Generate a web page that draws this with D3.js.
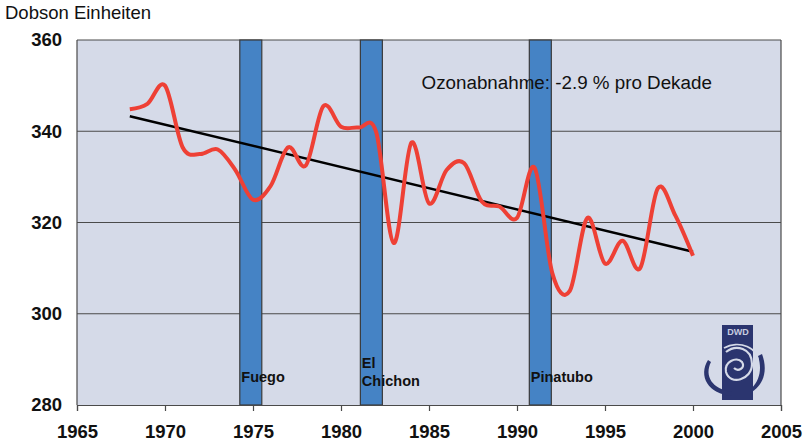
<!DOCTYPE html>
<html>
<head>
<meta charset="utf-8">
<script src="https://cdn.jsdelivr.net/npm/d3@7"></script>
<style>
  body { margin: 0; background: #fff; }
  text { font-family: "Liberation Sans", Arial, sans-serif; }
</style>
</head>
<body>
<script>
// chart data
var years = [1968, 1969, 1970, 1971, 1972, 1973, 1974, 1975, 1976, 1977, 1978, 1979, 1980,
             1981, 1982, 1983, 1984, 1985, 1986, 1987, 1988, 1989, 1990, 1991, 1992, 1993,
             1994, 1995, 1996, 1997, 1998, 1999, 2000];
var ozone = [344.8, 346, 350, 336.5, 335, 336, 331.5, 325, 328, 336.5, 332.5, 345.5, 341,
             340.8, 339.8, 315.5, 337.5, 324.2, 331.5, 333, 324.6, 323.5, 321, 332, 309, 305,
             321, 311, 316, 310, 327.5, 321.5, 312.7];
var trendYears = [1968, 2000];
var trendValues = [343.3, 313.6];
var volcanoes = ["Fuego", "El Chichon", "Pinatubo"];
var volcanoStart = [1974.25, 1981.1, 1990.7];
var volcanoEnd = [1975.5, 1982.35, 1991.95];
var xTicks = [1965, 1970, 1975, 1980, 1985, 1990, 1995, 2000, 2005];
var yTicks = [280, 300, 320, 340, 360];

var margin = {top: 40, right: 31, bottom: 37, left: 77},
    width = 812 - margin.left - margin.right,
    height = 442 - margin.top - margin.bottom;

var svg = d3.select("body").append("svg")
    .attr("width", 812)
    .attr("height", 442);

svg.append("text")
    .attr("x", 5).attr("y", 18.5)
    .style("font-size", "18.5px")
    .attr("fill", "#111")
    .text("Dobson Einheiten");

var g = svg.append("g")
    .attr("transform", "translate(" + margin.left + "," + margin.top + ")");

var x = d3.scaleLinear().domain([1965, 2005]).range([0, width]);
var y = d3.scaleLinear().domain([280, 360]).range([height, 0]);

g.append("rect")
    .attr("width", width).attr("height", height)
    .attr("fill", "#d5dae8");

// grid lines
g.selectAll(".grid")
    .data(yTicks.filter(function(d) { return d > 280; }))
    .enter().append("line")
    .attr("x1", 0).attr("x2", width)
    .attr("y1", function(d) { return y(d); })
    .attr("y2", function(d) { return y(d); })
    .attr("stroke", "#4a4a4a").attr("stroke-width", 1.2);

g.append("line").attr("x1", 0).attr("x2", 0).attr("y1", 0).attr("y2", height)
    .attr("stroke", "#4a4a4a").attr("stroke-width", 1.2);
g.append("line").attr("x1", width).attr("x2", width).attr("y1", 0).attr("y2", height)
    .attr("stroke", "#4a4a4a").attr("stroke-width", 1.2);

// volcano bars
g.selectAll(".bar")
    .data(volcanoes)
    .enter().append("rect")
    .attr("class", "bar")
    .attr("x", function(d, i) { return x(volcanoStart[i]); })
    .attr("width", function(d, i) { return x(volcanoEnd[i]) - x(volcanoStart[i]); })
    .attr("y", 0)
    .attr("height", height)
    .attr("fill", "#4583c5")
    .attr("stroke", "#3a3a3a").attr("stroke-width", 1.2);

g.append("text")
    .attr("x", x(1984.58)).attr("y", y(349.3))
    .style("font-size", "18.8px")
    .attr("fill", "#111")
    .text("Ozonabnahme: -2.9 % pro Dekade");

var labels = g.selectAll(".vlabel")
    .data(volcanoes)
    .enter().append("text")
    .attr("class", "vlabel")
    .attr("x", function(d, i) { return x(volcanoStart[i]) + 1.5; })
    .attr("y", function(d) { return d.indexOf(" ") > 0 ? y(284.2) : y(285.1); })
    .style("font-size", "14.5px")
    .style("font-weight", "bold")
    .attr("fill", "#111");
labels.each(function(d) {
  var parts = d.split(" "), t = d3.select(this);
  if (parts.length > 1) {
    t.append("tspan").attr("x", t.attr("x")).attr("dy", "-18px").text(parts[0]);
    t.append("tspan").attr("x", t.attr("x")).attr("dy", "18px").text(parts[1]);
  } else {
    t.text(d);
  }
});

// trend line
g.append("path")
    .datum(trendYears)
    .attr("fill", "none")
    .attr("stroke", "#000").attr("stroke-width", 2.5)
    .attr("d", d3.line()
      .x(function(d) { return x(d); })
      .y(function(d, i) { return y(trendValues[i]); }));

// ozone series
g.append("path")
    .datum(years)
    .attr("fill", "none")
    .attr("stroke", "#ee4035").attr("stroke-width", 4)
    .attr("d", d3.line()
      .curve(d3.curveCardinal.tension(0))
      .x(function(d) { return x(d); })
      .y(function(d, i) { return y(ozone[i]); }));

// axes
var xAxis = g.append("g")
    .attr("transform", "translate(0," + height + ")")
    .call(d3.axisBottom(x).tickValues(xTicks).tickFormat(d3.format("d")).tickSize(6).tickPadding(14));
xAxis.select(".domain").attr("stroke", "#4a4a4a").attr("stroke-width", 1.2);
xAxis.selectAll(".tick line").attr("stroke", "#4a4a4a").attr("stroke-width", 1.2);
xAxis.selectAll("text").style("font-size", "18.5px").style("font-weight", "bold")
    .style("font-family", "Liberation Sans, Arial, sans-serif").attr("fill", "#111");

var yAxis = g.append("g")
    .call(d3.axisLeft(y).tickValues(yTicks).tickSize(0).tickPadding(15));
yAxis.select(".domain").remove();
yAxis.selectAll("text").style("font-size", "18.5px").style("font-weight", "bold")
    .style("font-family", "Liberation Sans, Arial, sans-serif").attr("fill", "#111");

// logo (spiral emblem)
var logo = svg.append("g").attr("transform", "translate(738,362)");
var navy = "#2b356f";
logo.append("rect").attr("x", -16).attr("y", -37).attr("width", 31).attr("height", 75).attr("fill", navy);
logo.append("text").attr("x", 0).attr("y", -27).attr("text-anchor", "middle")
    .style("font-size", "9px").style("font-weight", "bold").attr("fill", "#c8cde0").text("DWD");
logo.append("path")
    .attr("d", "M-30,-2 C-40,14 -30,32 -6,34 L-6,30 C-26,27 -34,14 -27,0 Z")
    .attr("fill", navy);
logo.append("path")
    .attr("d", "M24,-8 C30,8 26,22 14,30 L14,26 C22,18 24,6 20,-6 Z")
    .attr("fill", navy);
logo.append("path")
    .attr("d", "M-12,-10 C-2,-18 14,-14 14,2 C14,18 -8,24 -12,10 C-14,0 -2,-6 4,0 C8,6 0,10 -4,6")
    .attr("fill", "none").attr("stroke", "#d5dae8").attr("stroke-width", 2.2);
logo.append("path")
    .attr("d", "M-14,-14 C0,-22 22,-16 20,4")
    .attr("fill", "none").attr("stroke", "#d5dae8").attr("stroke-width", 1.8);
</script>
</body>
</html>
